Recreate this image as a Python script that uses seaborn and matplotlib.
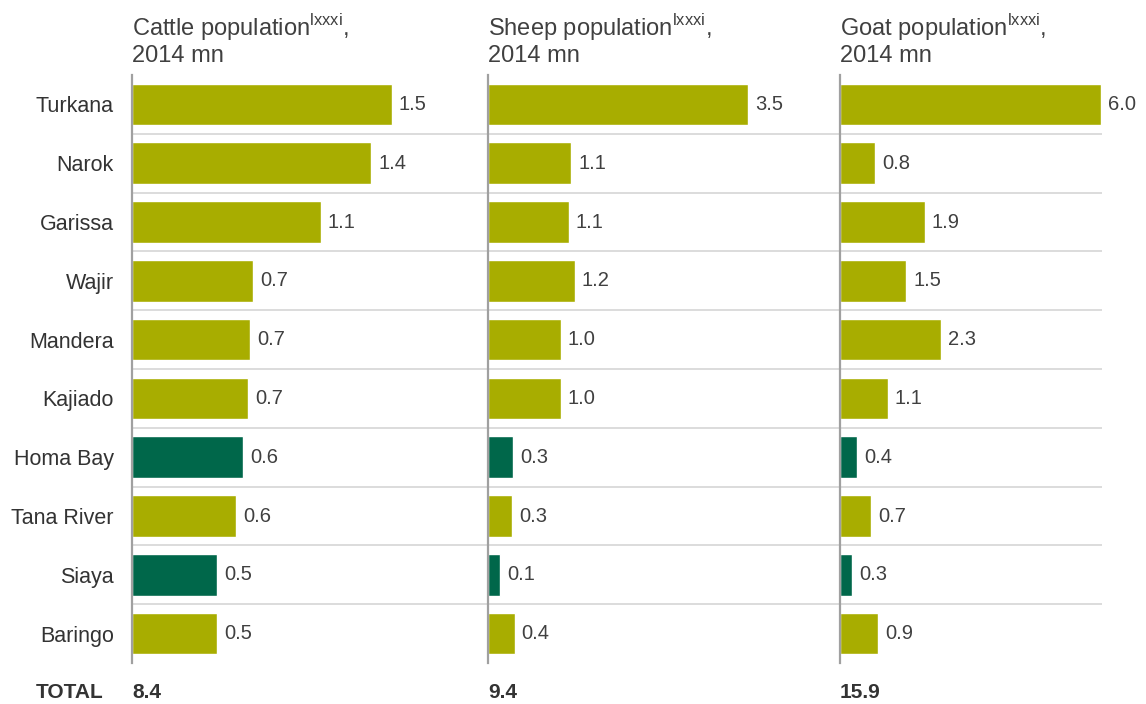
import numpy as np
import pandas as pd
import seaborn as sns
import matplotlib.pyplot as plt

# data
regions = ['Turkana', 'Narok', 'Garissa', 'Wajir', 'Mandera', 'Kajiado',
           'Homa Bay', 'Tana River', 'Siaya', 'Baringo']
highlight = ['Homa Bay', 'Siaya']

cattle = [1.50, 1.38, 1.09, 0.70, 0.68, 0.67, 0.64, 0.60, 0.49, 0.49]
sheep = [3.50, 1.12, 1.09, 1.17, 0.98, 0.98, 0.34, 0.32, 0.16, 0.36]
goat = [6.00, 0.80, 1.95, 1.52, 2.32, 1.10, 0.39, 0.71, 0.28, 0.87]

cattle_labels = ['1.5', '1.4', '1.1', '0.7', '0.7', '0.7', '0.6', '0.6', '0.5', '0.5']
sheep_labels = ['3.5', '1.1', '1.1', '1.2', '1.0', '1.0', '0.3', '0.3', '0.1', '0.4']
goat_labels = ['6.0', '0.8', '1.9', '1.5', '2.3', '1.1', '0.4', '0.7', '0.3', '0.9']

titles = ['Cattle population', 'Sheep population', 'Goat population']
totals = ['8.4', '9.4', '15.9']

sns.set_style('white')
plt.rcParams['font.family'] = ['Liberation Sans', 'DejaVu Sans']
plt.rcParams['mathtext.fontset'] = 'custom'
plt.rcParams['mathtext.rm'] = 'Liberation Sans'

olive = '#a8ad00'
dark = '#00674a'
txt = '#404040'
colors = [dark if r in highlight else olive for r in regions]

W, H = 1146, 704
fig = plt.figure(figsize=(W / 100, H / 100), dpi=100)

# axes placement in pixels
lefts = [132, 488, 840]
rights = [488, 840, 1102]
xmax = [1.50 * 356 / 260, 3.50 * 352 / 260, 6.00 * 262 / 261]
series = [cattle, sheep, goat]
labels = [cattle_labels, sheep_labels, goat_labels]

for i in range(3):
    l, r = lefts[i], rights[i]
    ax = fig.add_axes([l / W, 1 - 663 / H, (r - l) / W, 588 / H])
    df = pd.DataFrame({'region': regions, 'value': series[i]})
    sns.barplot(data=df, x='value', y='region', hue='region', palette=colors,
                legend=False, width=0.71, saturation=1, ax=ax)

    # row separators
    for y in np.arange(0.5, len(regions) - 1, 1.0):
        ax.axhline(y, color='#d9d9d9', lw=1.3, zorder=0)

    # value labels, ~7px right of bar end
    off = 7 * xmax[i] / (r - l)
    for j, v in enumerate(series[i]):
        ax.text(v + off, j, labels[i][j], va='center', ha='left',
                fontsize=14.5, color=txt)

    ax.set_xlim(0, xmax[i])
    ax.set_ylim(len(regions) - 0.5, -0.5)
    ax.set_xlabel('')
    ax.set_ylabel('')
    ax.set_xticks([])
    for s in ['top', 'right', 'bottom']:
        ax.spines[s].set_visible(False)
    ax.spines['left'].set_color('#a0a0a0')
    ax.spines['left'].set_linewidth(1.6)
    ax.patch.set_alpha(0)
    if i == 0:
        ax.tick_params(axis='y', length=0, pad=13, labelsize=15.5, labelcolor='#333333')
    else:
        ax.set_yticks([])

    fig.text(l / W, 1 - 12 / H, titles[i] + r'$^{\mathrm{lxxxi}}$,' + '\n2014 mn',
             ha='left', va='top', fontsize=17, color=txt, linespacing=1.1)
    fig.text(l / W, 1 - 693 / H, totals[i], ha='left', va='center',
             fontsize=15, fontweight='bold', color='#333333')

fig.text(104 / W, 1 - 693 / H, 'TOTAL', ha='right', va='center',
         fontsize=15, fontweight='bold', color='#333333')

plt.savefig('out.png', dpi=100)
